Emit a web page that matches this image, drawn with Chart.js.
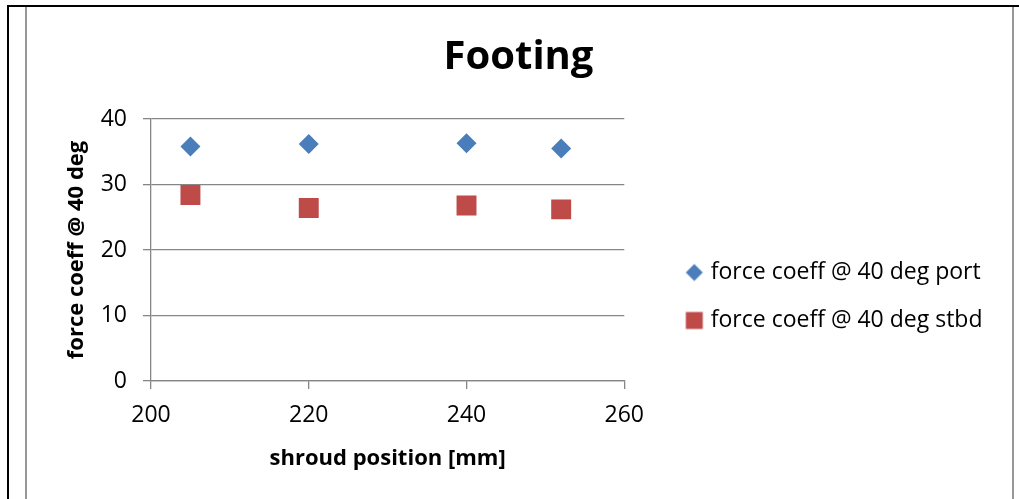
<!DOCTYPE html>
<html>
<head>
<meta charset="utf-8">
<script src="https://cdn.jsdelivr.net/npm/chart.js@4.4.1/dist/chart.umd.min.js"></script>
<style>
  html, body { margin: 0; padding: 0; background: #fff; }
  #wrap { width: 1019px; height: 499px; }
</style>
</head>
<body>
<div id="wrap"><canvas id="chart" width="1019" height="499"></canvas></div>
<script>
// ---- chart content ----
const chartTitle = 'Footing';
const xAxisTitle = 'shroud position [mm]';
const yAxisTitle = 'force coeff @ 40 deg';
const seriesNames = ['force coeff @ 40 deg port', 'force coeff @ 40 deg stbd'];
const shroudPositions = [205, 220, 240, 252];
const portValues = [35.8, 36.2, 36.3, 35.5];
const stbdValues = [28.4, 26.4, 26.8, 26.2];
const xTickValues = [200, 220, 240, 260];
const yTickValues = [0, 10, 20, 30, 40];

// ---- styling ----
const FONT = "'Open Sans', 'Liberation Sans', sans-serif";
const portColor = '#4A7EBB';
const stbdColor = '#BE4B48';
const axisGray = '#868686';

const toPoints = ys => shroudPositions.map((x, i) => ({ x, y: ys[i] }));

// small marker images for the legend entries
function markerImage(style, radius, color) {
  const c = document.createElement('canvas');
  c.width = 20; c.height = 20;
  const g = c.getContext('2d');
  g.fillStyle = color;
  g.strokeStyle = color;
  Chart.helpers.drawPoint(g, { pointStyle: style, radius, borderWidth: 0 }, 10, 10);
  return c;
}
const legendMarks = [
  markerImage('rectRot', 8.5, portColor),
  markerImage('rect', 12, stbdColor)
];

// document frame lines around the chart object
const pageFrame = {
  id: 'pageFrame',
  beforeDraw(chart) {
    const g = chart.ctx;
    const w = chart.width, h = chart.height;
    g.save();
    g.fillStyle = '#000';
    g.fillRect(7, 5, 2, h - 5);
    g.fillRect(7, 5, w - 7, 2);
    g.fillStyle = '#979797';
    g.fillRect(25, 7, 2, h - 7);
    g.fillRect(1012, 7, 2, h - 7);
    g.restore();
  }
};

new Chart(document.getElementById('chart'), {
  type: 'scatter',
  data: {
    datasets: [
      {
        label: seriesNames[0],
        data: toPoints(portValues),
        pointStyle: 'rectRot',
        pointRadius: 10,
        pointHoverRadius: 10,
        backgroundColor: portColor,
        borderColor: portColor,
        borderWidth: 0
      },
      {
        label: seriesNames[1],
        data: toPoints(stbdValues),
        pointStyle: 'rect',
        pointRadius: 14.1,
        pointHoverRadius: 14.1,
        backgroundColor: stbdColor,
        borderColor: stbdColor,
        borderWidth: 0
      }
    ]
  },
  options: {
    responsive: false,
    animation: false,
    devicePixelRatio: 1,
    layout: { padding: { left: 44.5, right: 26.5, top: 0, bottom: 0 } },
    plugins: {
      tooltip: { enabled: false },
      title: {
        display: true,
        text: chartTitle,
        color: '#000',
        font: { family: FONT, size: 40, weight: 'bold' },
        padding: { top: 34, bottom: 37 }
      },
      legend: {
        position: 'right',
        align: 'center',
        maxWidth: 420,
        title: { display: true, text: '', font: { size: 10 }, padding: { top: 82, bottom: 0 } },
        labels: {
          usePointStyle: true,
          boxWidth: 10,
          boxHeight: 17,
          padding: 25,
          color: '#000',
          font: { family: FONT, size: 23 },
          generateLabels(chart) {
            const items = Chart.defaults.plugins.legend.labels.generateLabels(chart);
            items.forEach((it, i) => { it.pointStyle = legendMarks[i]; });
            return items;
          }
        }
      }
    },
    scales: {
      x: {
        type: 'linear',
        position: 'bottom',
        min: xTickValues[0],
        max: xTickValues[xTickValues.length - 1],
        afterBuildTicks(scale) { scale.ticks = xTickValues.map(v => ({ value: v })); },
        afterFit(scale) { scale.height = 118; },
        grid: { drawOnChartArea: false, drawTicks: true, tickLength: 8, color: axisGray, lineWidth: 1.3 },
        border: { display: true, color: axisGray, width: 1.3 },
        ticks: { color: '#000', padding: 13, font: { family: FONT, size: 23 } },
        title: {
          display: true,
          text: xAxisTitle,
          color: '#000',
          font: { family: FONT, size: 22, weight: 'bold' },
          padding: { top: 0, bottom: 27 }
        }
      },
      y: {
        type: 'linear',
        position: 'left',
        min: yTickValues[0],
        max: yTickValues[yTickValues.length - 1],
        afterBuildTicks(scale) { scale.ticks = yTickValues.map(v => ({ value: v })); },
        afterFit(scale) { scale.width = 106.5; },
        grid: { drawOnChartArea: true, drawTicks: true, tickLength: 8, color: axisGray, lineWidth: 1.3 },
        border: { display: true, color: axisGray, width: 1.3 },
        ticks: { color: '#000', padding: 16, font: { family: FONT, size: 23 } },
        title: {
          display: true,
          text: yAxisTitle,
          color: '#000',
          font: { family: FONT, size: 22, weight: 'bold' },
          padding: { top: 19, bottom: 0 }
        }
      },
      legendGap: {
        type: 'linear',
        position: 'right',
        display: true,
        afterFit(scale) { scale.width = 40; },
        grid: { display: false, drawTicks: false },
        border: { display: false },
        ticks: { display: false }
      }
    }
  },
  plugins: [pageFrame]
});
</script>
</body>
</html>
